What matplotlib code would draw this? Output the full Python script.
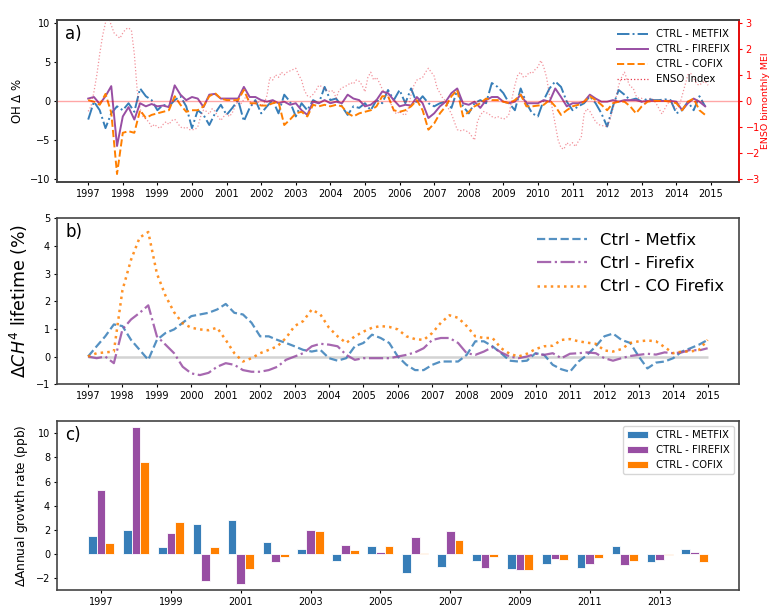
#!/usr/bin/env python3

import numpy as np
import matplotlib
matplotlib.use('Agg')

import matplotlib.pyplot as plt

# OH anomalies (%), two-monthly steps starting Jan 1997
oh_metfix = [
    -2.4, -0.1, -1.2, -3.5, -1.6, -0.7,
    -1.2, -0.3, -1.4, 1.6, 0.6, 0.1,
    -1.2, -0.5, -0.7, 0.1, 0.6, -0.7,
    -3.5, -1.2, -1.8, -3.1, -1.6, -0.5,
    -1.8, -0.9, 0.1, -2.6, -0.9, 0.1,
    -1.6, -0.7, 0.1, -1.6, 0.8, -0.1,
    -2.0, -0.3, -1.2, 0.1, -0.3, 1.8,
    0.1, 0.3, -0.7, -1.8, -0.7, -0.9,
    -0.3, -1.2, 0.1, -0.3, 1.4, 0.1,
    1.4, -0.3, 1.6, -0.3, 0.6, -0.3,
    -0.7, -0.3, -0.1, -0.9, 1.4, -0.7,
    -1.6, -0.3, 0.1, -0.3, 2.3, 1.8,
    1.0, -0.3, -1.2, 1.6, -0.3, -1.6,
    -2.0, 0.1, 1.6, 2.5, 1.8, -0.1,
    -1.2, -0.7, -0.3, 0.6, -0.3, -1.6,
    -3.3, -0.7, 1.4, 0.8, 0.1, 0.3,
    -0.1, 0.3, 0.1, 0.1, 0.2, 0.1,
    -1.6, -1.2, -0.1, -1.2, 0.6, -0.7,
]
oh_firefix = [
    0.3, 0.5, -0.4, 0.6, 1.9, -5.8,
    -2.0, -0.8, -2.4, -0.3, -0.7, -0.4,
    -0.7, -0.6, -0.8, 2.0, 0.8, 0.1,
    0.5, 0.3, -0.8, 0.8, 0.9, 0.3,
    0.3, 0.3, 0.3, 1.8, 0.5, 0.5,
    0.1, -0.1, 0.1, -0.3, -0.1, -0.5,
    -0.3, -1.2, -1.8, -0.1, -0.3, 0.1,
    -0.3, -0.1, -0.3, 0.8, 0.3, 0.1,
    -0.7, -0.5, 0.1, 1.2, 1.0, 0.1,
    -0.7, -0.5, -0.6, 0.5, -0.3, -2.2,
    -1.6, -0.7, -0.1, 1.0, 1.6, -0.3,
    -0.5, -0.1, -0.9, 0.1, 0.5, 0.5,
    -0.1, -0.3, -0.1, 0.8, -0.3, -0.3,
    -0.3, 0.1, -0.1, 1.6, 0.5, -0.7,
    -0.3, -0.3, -0.1, 0.8, 0.3, -0.1,
    -0.1, 0.1, -0.1, 0.1, 0.1, 0.1,
    -0.1, 0.0, 0.0, 0.0, 0.0, 0.0,
    -0.1, -1.2, -0.3, 0.3, -0.1, -0.7,
]
oh_cofix = [
    0.1, -0.1, -0.5, 0.9, -1.5, -9.4,
    -4.1, -3.9, -4.1, -1.2, -2.2, -1.8,
    -1.6, -1.4, -1.2, 0.6, -0.5, -1.4,
    -1.2, -1.2, -0.7, 0.6, 1.0, 0.3,
    0.1, 0.1, 0.1, 1.4, -0.3, -0.3,
    -0.6, -0.6, -0.3, -0.1, -3.1, -2.4,
    -1.6, -1.4, -2.0, -0.5, -0.7, -0.5,
    -0.7, -0.5, -0.7, -1.6, -2.0, -1.6,
    -1.4, -1.2, -0.7, 0.6, 0.6, -1.2,
    -1.4, -1.2, -0.7, 0.1, -1.2, -3.7,
    -2.9, -1.6, -0.7, 0.6, 1.4, -2.0,
    -1.4, -0.7, -0.3, 0.3, 0.1, 0.1,
    -0.1, -0.3, 0.1, 0.8, -0.7, -0.7,
    -0.6, -0.5, 0.1, -0.7, -1.8, -1.2,
    -0.7, -0.5, -0.1, 0.6, 0.1, -0.5,
    -1.2, -0.3, -0.1, -0.1, -0.7, -1.6,
    -0.7, -0.1, 0.0, 0.0, 0.0, -0.1,
    -0.3, -1.2, -0.1, 0.3, -1.2, -1.8,
]

# Multivariate ENSO index, monthly from Jan 1997
mei = [
    -0.4, -0.2, 0.35, 1.0, 1.8, 2.5, 3.0, 3.2, 2.9, 2.6, 2.5, 2.4,
    2.6, 2.75, 2.8, 2.7, 1.8, 0.4, -0.3, -0.6, -0.7, -0.8, -1.0, -0.9,
    -1.0, -1.05, -0.9, -0.8, -0.9, -0.75, -0.7, -0.85, -1.0, -1.05, -1.0, -1.1,
    -1.1, -1.1, -1.0, -0.6, -0.35, -0.4, -0.5, -0.3, -0.4, -0.6, -0.75, -0.6,
    -0.5, -0.6, -0.45, -0.2, 0.0, -0.1, 0.05, 0.2, 0.0, -0.15, -0.1, -0.05,
    -0.2, -0.1, 0.2, 0.9, 0.8, 1.0, 0.9, 1.1, 1.0, 1.1, 1.15, 1.2,
    1.25, 1.0, 0.8, 0.4, 0.2, 0.15, 0.25, 0.4, 0.6, 0.55, 0.45, 0.4,
    0.35, 0.4, 0.1, 0.4, 0.5, 0.55, 0.6, 0.7, 0.65, 0.8, 0.75, 0.6,
    0.35, 0.9, 1.1, 0.8, 0.9, 0.7, 0.45, 0.3, 0.2, -0.1, -0.4, -0.5,
    -0.4, -0.5, -0.55, -0.3, 0.25, 0.6, 0.8, 0.85, 0.9, 1.1, 1.25, 1.1,
    0.95, 0.5, 0.3, 0.1, 0.0, -0.3, -0.5, -0.8, -1.1, -1.15, -1.1, -1.15,
    -1.2, -1.35, -1.5, -0.8, -0.55, -0.4, -0.45, -0.5, -0.6, -0.65, -0.6, -0.65,
    -0.7, -0.65, -0.5, 0.1, 0.6, 1.0, 1.1, 0.9, 0.95, 1.1, 1.05, 1.2,
    1.3, 1.55, 1.3, 0.9, 0.2, -0.3, -0.9, -1.5, -1.8, -1.85, -1.6, -1.7,
    -1.6, -1.75, -1.55, -1.4, -0.5, -0.3, -0.4, -0.6, -0.8, -0.9, -0.95, -0.95,
    -1.0, -0.7, -0.3, 0.1, 0.6, 0.9, 1.1, 0.8, 0.55, 0.5, 0.2, 0.1,
    0.1, -0.1, 0.0, 0.1, 0.05, -0.1, -0.3, -0.5, -0.3, -0.1, 0.0, -0.2,
    -0.3, -0.2, 0.2, 0.6, 1.0, 1.05, 0.9, 0.65, 0.6, 0.7, 0.75, 0.6,
]

# CH4 lifetime change (%), quarterly 1997.0 - 2015.0
life_metfix = [
    0.0, 0.37, 0.73, 1.16, 1.1, 0.6, 0.24, -0.12, 0.6, 0.85, 0.98, 1.22,
    1.46, 1.52, 1.58, 1.7, 1.9, 1.58, 1.52, 1.22, 0.73, 0.73, 0.6, 0.49,
    0.37, 0.24, 0.18, 0.24, -0.06, -0.15, -0.06, 0.37, 0.49, 0.79, 0.67, 0.49,
    0.0, -0.3, -0.49, -0.49, -0.3, -0.18, -0.18, -0.18, 0.06, 0.55, 0.55, 0.37,
    0.12, -0.15, -0.18, -0.15, 0.12, 0.06, -0.3, -0.46, -0.55, -0.18, 0.06, 0.37,
    0.73, 0.83, 0.6, 0.49, 0.0, -0.43, -0.22, -0.18, -0.06, 0.18, 0.3, 0.43,
    0.6,
]
life_firefix = [
    0.0, -0.06, 0.0, -0.24, 0.98, 1.34, 1.58, 1.85, 0.73, 0.43, 0.12, -0.37,
    -0.61, -0.67, -0.59, -0.37, -0.24, -0.3, -0.49, -0.55, -0.55, -0.49, -0.37, -0.12,
    0.0, 0.12, 0.37, 0.46, 0.43, 0.37, 0.06, -0.12, -0.06, -0.06, -0.06, -0.06,
    0.0, 0.06, 0.15, 0.3, 0.6, 0.67, 0.67, 0.49, 0.12, 0.06, 0.18, 0.34,
    0.15, 0.0, -0.06, 0.0, 0.1, 0.06, 0.12, -0.06, 0.1, 0.12, 0.15, 0.12,
    -0.06, -0.15, -0.06, 0.02, 0.06, 0.1, 0.07, 0.15, 0.12, 0.15, 0.24, 0.22,
    0.3,
]
life_cofix = [
    0.0, 0.12, 0.15, 0.18, 2.4, 3.5, 4.3, 4.5, 3.0, 2.2, 1.6, 1.2,
    1.04, 0.98, 0.95, 1.04, 0.6, 0.12, -0.18, -0.06, 0.12, 0.24, 0.37, 0.67,
    1.1, 1.28, 1.7, 1.52, 1.04, 0.73, 0.49, 0.73, 0.9, 1.04, 1.1, 1.07,
    0.98, 0.73, 0.63, 0.6, 0.85, 1.22, 1.49, 1.4, 1.1, 0.73, 0.67, 0.67,
    0.3, 0.1, 0.0, 0.1, 0.27, 0.37, 0.39, 0.6, 0.63, 0.55, 0.5, 0.46,
    0.22, 0.18, 0.27, 0.49, 0.55, 0.58, 0.55, 0.34, 0.12, 0.18, 0.18, 0.24,
    0.6,
]

# annual growth rate differences (ppb)
years = np.arange(1997, 2015)
gr_metfix = [1.48, 2.0, 0.58, 2.45, 2.8, 0.99, 0.44, -0.58, 0.69,
             -1.54, -1.04, -0.58, -1.26, -0.82, -1.18, 0.69, -0.66, 0.38]
gr_firefix = [5.27, 10.55, 1.7, -2.22, -2.5, -0.69, 1.98, 0.74, 0.19,
              1.4, 1.9, -1.18, -1.32, -0.41, -0.82, -0.88, -0.47, 0.14]
gr_cofix = [0.88, 7.58, 2.66, 0.58, -1.26, -0.27, 1.9, 0.33, 0.66,
            0.08, 1.15, -0.27, -1.32, -0.47, -0.3, -0.58, -0.11, -0.66]

BLUE = '#377eb8'
PURPLE = '#984ea3'
ORANGE = '#ff7f00'


def main():
    plt.rcParams['font.size'] = 7
    plt.rcParams['axes.edgecolor'] = '#444444'
    plt.rcParams['axes.linewidth'] = 1.2
    for ax_name in ('xtick', 'ytick'):
        plt.rcParams[ax_name + '.major.size'] = 2.5
        plt.rcParams[ax_name + '.major.pad'] = 2.5

    fig = plt.figure(figsize=(7.71, 6.06), dpi=100)

    # ---- a) OH anomalies with ENSO index
    t_oh = 1997 + np.arange(len(oh_metfix)) / 6
    t_mei = 1997 + np.arange(len(mei)) / 12

    ax1 = fig.add_axes([0.074, 0.700, 0.884, 0.267])
    l1, = ax1.plot(t_oh, oh_metfix, '-.', color=BLUE, lw=1.4, label='CTRL - METFIX')
    l2, = ax1.plot(t_oh, oh_firefix, '-', color=PURPLE, lw=1.4, label='CTRL - FIREFIX')
    l3, = ax1.plot(t_oh, oh_cofix, '--', color=ORANGE, lw=1.4, label='CTRL - COFIX')
    ax1.set_xlim(1996.1, 2015.8)
    ax1.set_ylim(-10.4, 10.4)
    ax1.set_yticks([-10, -5, 0, 5, 10])
    ax1.set_xticks(np.arange(1997, 2016))
    ax1.set_ylabel('OH $\\Delta$ %', fontsize=8.5)
    ax1.text(0.012, 0.97, 'a)', transform=ax1.transAxes, fontsize=12, va='top')

    ax1r = ax1.twinx()
    ax1r.axhline(0, color='red', alpha=0.35, lw=1)
    l4, = ax1r.plot(t_mei, mei, ':', color='#e8394a', alpha=0.55, lw=0.9, label='ENSO Index')
    ax1r.set_ylim(-3.1, 3.1)
    ax1r.set_yticks([-3, -2, -1, 0, 1, 2, 3])
    ax1r.set_ylabel('ENSO bimonthly MEI', color='red', fontsize=6.8, labelpad=1)
    ax1r.tick_params(axis='y', colors='red')
    ax1r.spines['right'].set_color('red')

    leg = ax1r.legend(handles=[l1, l2, l3, l4], loc='upper right', frameon=False,
                      fontsize=7.3, handlelength=3)
    for h in leg.legend_handles:
        h.set_alpha(1)

    # ---- b) CH4 lifetime change
    t_life = 1997 + np.arange(len(life_metfix)) / 4

    ax2 = fig.add_axes([0.074, 0.366, 0.884, 0.274])
    ax2.hlines(0, t_life[0], t_life[-1], color='lightgray', lw=1.8)
    ax2.plot(t_life, life_metfix, '--', color=BLUE, alpha=0.85, lw=1.6, label='Ctrl - Metfix')
    ax2.plot(t_life, life_firefix, '-.', color=PURPLE, alpha=0.85, lw=1.6, label='Ctrl - Firefix')
    ax2.plot(t_life, life_cofix, ':', color=ORANGE, alpha=0.85, lw=1.8, label='Ctrl - CO Firefix')
    ax2.set_xlim(1996.1, 2015.9)
    ax2.set_ylim(-1, 5)
    ax2.set_xticks(np.arange(1997, 2016))
    ax2.set_ylabel('$\\Delta CH^4$ lifetime (%)', fontsize=12.5)
    ax2.text(0.012, 0.97, 'b)', transform=ax2.transAxes, fontsize=12, va='top')
    ax2.legend(loc='upper right', frameon=False, fontsize=11.8, handlelength=3)

    # ---- c) growth rate bars
    w = 0.25
    ax3 = fig.add_axes([0.074, 0.026, 0.884, 0.279])
    ax3.bar(years - w, gr_metfix, w, color=BLUE, edgecolor='white', lw=0.6, label='CTRL - METFIX')
    ax3.bar(years, gr_firefix, w, color=PURPLE, edgecolor='white', lw=0.6, label='CTRL - FIREFIX')
    ax3.bar(years + w, gr_cofix, w, color=ORANGE, edgecolor='white', lw=0.6, label='CTRL - COFIX')
    ax3.set_ylim(-3, 11)
    ax3.set_yticks([-2, 0, 2, 4, 6, 8, 10])
    ax3.set_xticks(np.arange(1997, 2015, 2))
    ax3.set_ylabel('$\\Delta$Annual growth rate (ppb)', fontsize=8.7)
    ax3.text(0.012, 0.97, 'c)', transform=ax3.transAxes, fontsize=12, va='top')
    ax3.legend(loc='upper right', fontsize=7.3)

    plt.savefig('out.png', dpi=100)


if __name__ == "__main__":
    main()
